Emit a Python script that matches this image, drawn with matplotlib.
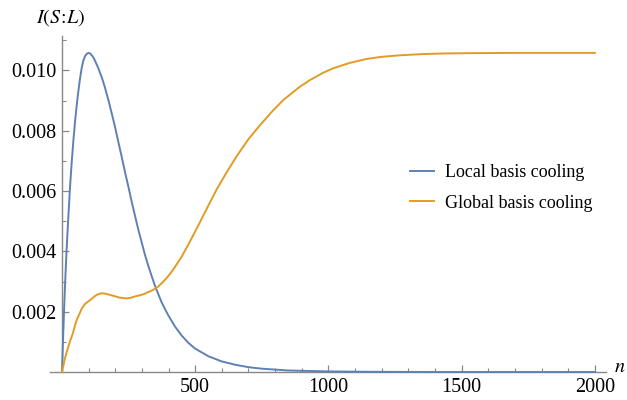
import numpy as np
import matplotlib
matplotlib.use('Agg')
import matplotlib.pyplot as plt
from matplotlib.ticker import FixedLocator

# values
n_local = [0, 4, 8, 12, 17, 23, 30, 36, 43, 49, 55, 61, 68, 74, 80, 87, 93, 99, 106, 112, 118,
           124, 136, 149, 161, 174, 186, 199, 211, 224, 236, 249, 261, 274, 286, 299, 311, 324,
           337, 349, 362, 374, 387, 399, 424, 449, 474, 499, 550, 600, 650, 700, 750, 800,
           850, 900, 950, 1000, 1100, 1200, 1400, 1600, 1800, 2000]
I_local = [0, 0.0011, 0.0021, 0.0030, 0.0040, 0.0050, 0.0061, 0.0069, 0.0077, 0.0083, 0.00882,
           0.00928, 0.00975, 0.01008, 0.01032, 0.01048, 0.01055, 0.01058, 0.01056, 0.01050,
           0.01043, 0.01032, 0.01008, 0.00978, 0.00944, 0.00902, 0.00860, 0.00813, 0.00765,
           0.00714, 0.00665, 0.00615, 0.00567, 0.00518, 0.00474, 0.00430, 0.00390, 0.00352,
           0.00317, 0.00286, 0.00257, 0.00231, 0.00208, 0.00188, 0.00151, 0.00121, 0.00097,
           0.00078, 0.00052, 0.00035, 0.00024, 0.00016, 0.00011, 0.00008, 0.00005, 0.00004,
           0.00003, 0.00002, 0.00001, 0.000005, 0, 0, 0, 0]

n_global = [0, 6, 12, 18, 24, 30, 37, 43, 49, 55, 62, 68, 74, 80, 87, 93, 99, 112, 124, 136,
            149, 161, 174, 187, 199, 215, 230, 243, 258, 272, 286, 299, 312, 324, 337, 349,
            362, 374, 387, 399, 418, 449, 480, 518, 550, 581, 620, 656, 700, 743, 790, 831,
            893, 931, 980, 1018, 1081, 1144, 1200, 1269, 1350, 1430, 1519, 1700, 2000]
I_global = [0, 0.00025, 0.00048, 0.00067, 0.00084, 0.00102, 0.00118, 0.00135, 0.00155,
            0.00172, 0.00186, 0.00198, 0.00210, 0.00218, 0.00226, 0.00230, 0.00234, 0.00243,
            0.00252, 0.00258, 0.00261, 0.00260, 0.00257, 0.00254, 0.00251, 0.00247, 0.00245,
            0.00244, 0.00246, 0.00250, 0.00253, 0.00256, 0.00260, 0.00265, 0.00270, 0.00276,
            0.00284, 0.00294, 0.00306, 0.00318, 0.00340, 0.00382, 0.00432, 0.00497, 0.00553,
            0.00606, 0.00665, 0.00716, 0.00772, 0.00818, 0.00865, 0.00902, 0.00946, 0.00968,
            0.00992, 0.01007, 0.01025, 0.01038, 0.01045, 0.01050, 0.01054, 0.01056, 0.01057,
            0.01058, 0.01058]

blue = '#5E81B5'
orange = '#E19C24'
axcol = '#888888'

plt.rcParams['font.family'] = ['Liberation Serif', 'DejaVu Serif']
plt.rcParams['mathtext.fontset'] = 'stix'

fig = plt.figure(figsize=(6.27, 4.0), dpi=100)
ax = fig.add_axes([50/627, 28/400, (606-50)/627, (372-36)/400])

ax.plot(n_local, I_local, color=blue, lw=1.4, label='Local basis cooling', clip_on=False, zorder=3)
ax.plot(n_global, I_global, color=orange, lw=1.4, label='Global basis cooling', clip_on=False, zorder=3)

ax.set_xlim(-45, 2042)
ax.set_ylim(0, 0.01114)

for s in ['top', 'right']:
    ax.spines[s].set_visible(False)
ax.spines['left'].set_position(('data', 0))
ax.spines['bottom'].set_position(('data', 0))
for s in ['left', 'bottom']:
    ax.spines[s].set_color(axcol)
    ax.spines[s].set_linewidth(1.0)

ax.xaxis.set_major_locator(FixedLocator([500, 1000, 1500, 2000]))
ax.xaxis.set_minor_locator(FixedLocator([v for v in range(100, 2001, 100) if v % 500]))
ax.yaxis.set_major_locator(FixedLocator([0.002, 0.004, 0.006, 0.008, 0.010]))
ax.yaxis.set_minor_locator(FixedLocator([0.001, 0.003, 0.005, 0.007, 0.009, 0.011]))
ax.set_yticklabels(['0.002', '0.004', '0.006', '0.008', '0.010'])
ax.set_xticklabels(['500', '1000', '1500', '2000'])

ax.tick_params(which='major', direction='in', length=5, width=0.9, color=axcol,
               labelsize=14.5, labelcolor='black', pad=4)
ax.tick_params(which='minor', direction='in', length=3, width=0.8, color=axcol)

fig.text(61/627, 1 - 18/400, r'$I(S\!:\!L)$', ha='center', va='center', fontsize=14.5)
fig.text(620/627, 1 - 367/400, r'$n$', ha='center', va='center', fontsize=14.5)

ax.legend(loc='center left', bbox_to_anchor=(394/627, 1 - 188/400), bbox_transform=fig.transFigure,
          frameon=False, fontsize=13, handlelength=1.3, handletextpad=0.6, labelspacing=0.75)

fig.savefig('out.png', dpi=100)
